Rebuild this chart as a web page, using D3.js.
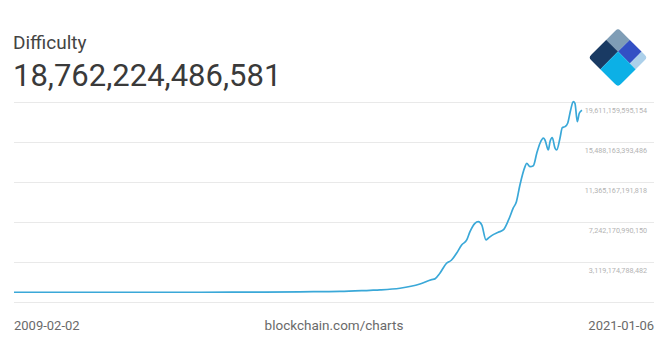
<!DOCTYPE html>
<html>
<head>
<meta charset="utf-8">
<script src="https://cdn.jsdelivr.net/npm/d3@7"></script>
<style>
  html, body { margin: 0; padding: 0; background: #fff; }
  svg { display: block; font-family: Roboto, "Noto Sans", sans-serif; }
</style>
</head>
<body>
<div id="chart"></div>
<script>
// values (difficulty in trillions)
var dates = ["2009-02-02","2013-01-08","2014-04-10","2015-02-04","2015-12-08","2016-07-25","2016-10-10",
  "2017-03-12","2017-08-12","2017-11-10","2017-12-05","2018-01-12","2018-03-04","2018-04-10","2018-05-20",
  "2018-06-28","2018-08-06","2018-08-31","2018-10-08","2018-11-03","2018-11-29","2019-01-01","2019-01-18",
  "2019-02-13","2019-04-05","2019-05-13","2019-06-21","2019-07-29","2019-08-22","2019-09-18","2019-10-27",
  "2019-11-09","2019-12-04","2019-12-30","2020-01-25","2020-02-19","2020-03-16","2020-03-28","2020-04-23",
  "2020-05-06","2020-05-23","2020-06-13","2020-06-26","2020-07-21","2020-08-08","2020-08-29","2020-09-18",
  "2020-10-11","2020-10-31","2020-11-13","2020-12-01","2020-12-16","2021-01-06"];
var difficulty = [0, 0.003, 0.01, 0.05, 0.09, 0.2, 0.24,
  0.41, 0.85, 1.3, 1.38, 1.96, 2.99, 3.3, 4.02,
  4.88, 5.39, 6.25, 7.11, 7.28, 6.94, 5.39, 5.57,
  5.84, 6.19, 6.42, 7.4, 8.69, 9.34, 11.06, 12.95,
  13.3, 12.95, 13.05, 14.33, 15.36, 15.88, 15.7, 14.67,
  15.53, 15.94, 14.85, 14.67, 15.88, 16.97, 17.07, 17.42,
  18.79, 19.65, 19.48, 17.59, 18.45, 18.76];
var tickValues = [3119174788482, 7242170990150, 11365167191818, 15488163393486, 19611159595154];
var title = "Difficulty";
var headline = "18,762,224,486,581";
var startLabel = "2009-02-02", endLabel = "2021-01-06", sourceLabel = "blockchain.com/charts";

var width = 672, height = 351;
var svg = d3.select("#chart").append("svg")
    .attr("width", width)
    .attr("height", height);

var parse = d3.timeParse("%Y-%m-%d");
var data = dates.map(function(d, i){ return {date: parse(d), value: difficulty[i] * 1e12}; });

var step = tickValues[1] - tickValues[0];
var x = d3.scaleTime()
    .domain([parse(startLabel), parse(endLabel)])
    .range([14, 582]);
var y = d3.scaleLinear()
    .domain([tickValues[0] - step, tickValues[tickValues.length - 1]])
    .range([302, 102]);

// grid lines
var grid = [tickValues[0] - step].concat(tickValues);
svg.append("g").selectAll("line")
    .data(grid)
    .join("line")
    .attr("x1", 14).attr("x2", 654)
    .attr("y1", function(d){ return Math.round(y(d)) + 0.5; })
    .attr("y2", function(d){ return Math.round(y(d)) + 0.5; })
    .style("stroke", "#e9e9e9")
    .style("stroke-width", 1);

// tick labels
svg.append("g").selectAll("text")
    .data(tickValues)
    .join("text")
    .attr("x", 647)
    .attr("y", function(d){ return y(d) + 10.5; })
    .attr("text-anchor", "end")
    .style("font-size", "7.2px")
    .style("fill", "#b3b3b3")
    .text(function(d){ return d3.format(",.0f")(d); });

// the curve
var line = d3.line()
    .x(function(d){ return x(d.date); })
    .y(function(d){ return y(d.value); })
    .curve(d3.curveMonotoneX);

svg.append("path")
    .datum(data)
    .attr("d", line)
    .style("fill", "none")
    .style("stroke", "#3aa8d8")
    .style("stroke-width", "1.7px")
    .style("stroke-linejoin", "round");

// header
svg.append("text").attr("x", 13).attr("y", 49)
    .style("font-size", "19px").style("fill", "#444")
    .text(title);
svg.append("text").attr("x", 13).attr("y", 86)
    .style("font-size", "31px").style("fill", "#3a3a3a")
    .text(headline);

// footer
svg.append("text").attr("x", 14).attr("y", 330)
    .style("font-size", "13px").style("fill", "#6a6a6a")
    .text(startLabel);
svg.append("text").attr("x", 334).attr("y", 330).attr("text-anchor", "middle")
    .style("font-size", "13.5px").style("fill", "#6a6a6a")
    .text(sourceLabel);
svg.append("text").attr("x", 654).attr("y", 330).attr("text-anchor", "end")
    .style("font-size", "13px").style("fill", "#6a6a6a")
    .text(endLabel);

// logo
var s = 42, h = s / 2, a = -h + 0.4 * s, b = -h + 0.8 * s;
var defs = svg.append("defs");
defs.append("clipPath").attr("id", "logoClip")
    .append("rect")
    .attr("x", -h).attr("y", -h).attr("width", s).attr("height", s)
    .attr("rx", 4);
var logo = svg.append("g")
    .attr("transform", "translate(618,57.5) rotate(45)")
    .attr("clip-path", "url(#logoClip)");
var pieces = [
  {x0: -h, x1: a, y0: -h, y1: a, c: "#7f9db6"},
  {x0: -h, x1: a, y0: a, y1: h, c: "#193a63"},
  {x0: a, x1: b, y0: -h, y1: a, c: "#3350c4"},
  {x0: b, x1: h, y0: -h, y1: a, c: "#acd0ea"},
  {x0: a, x1: h, y0: a, y1: h, c: "#0cb0e6"}
];
logo.selectAll("rect")
    .data(pieces)
    .join("rect")
    .attr("x", function(d){ return d.x0; })
    .attr("y", function(d){ return d.y0; })
    .attr("width", function(d){ return d.x1 - d.x0; })
    .attr("height", function(d){ return d.y1 - d.y0; })
    .style("fill", function(d){ return d.c; });
</script>
</body>
</html>
